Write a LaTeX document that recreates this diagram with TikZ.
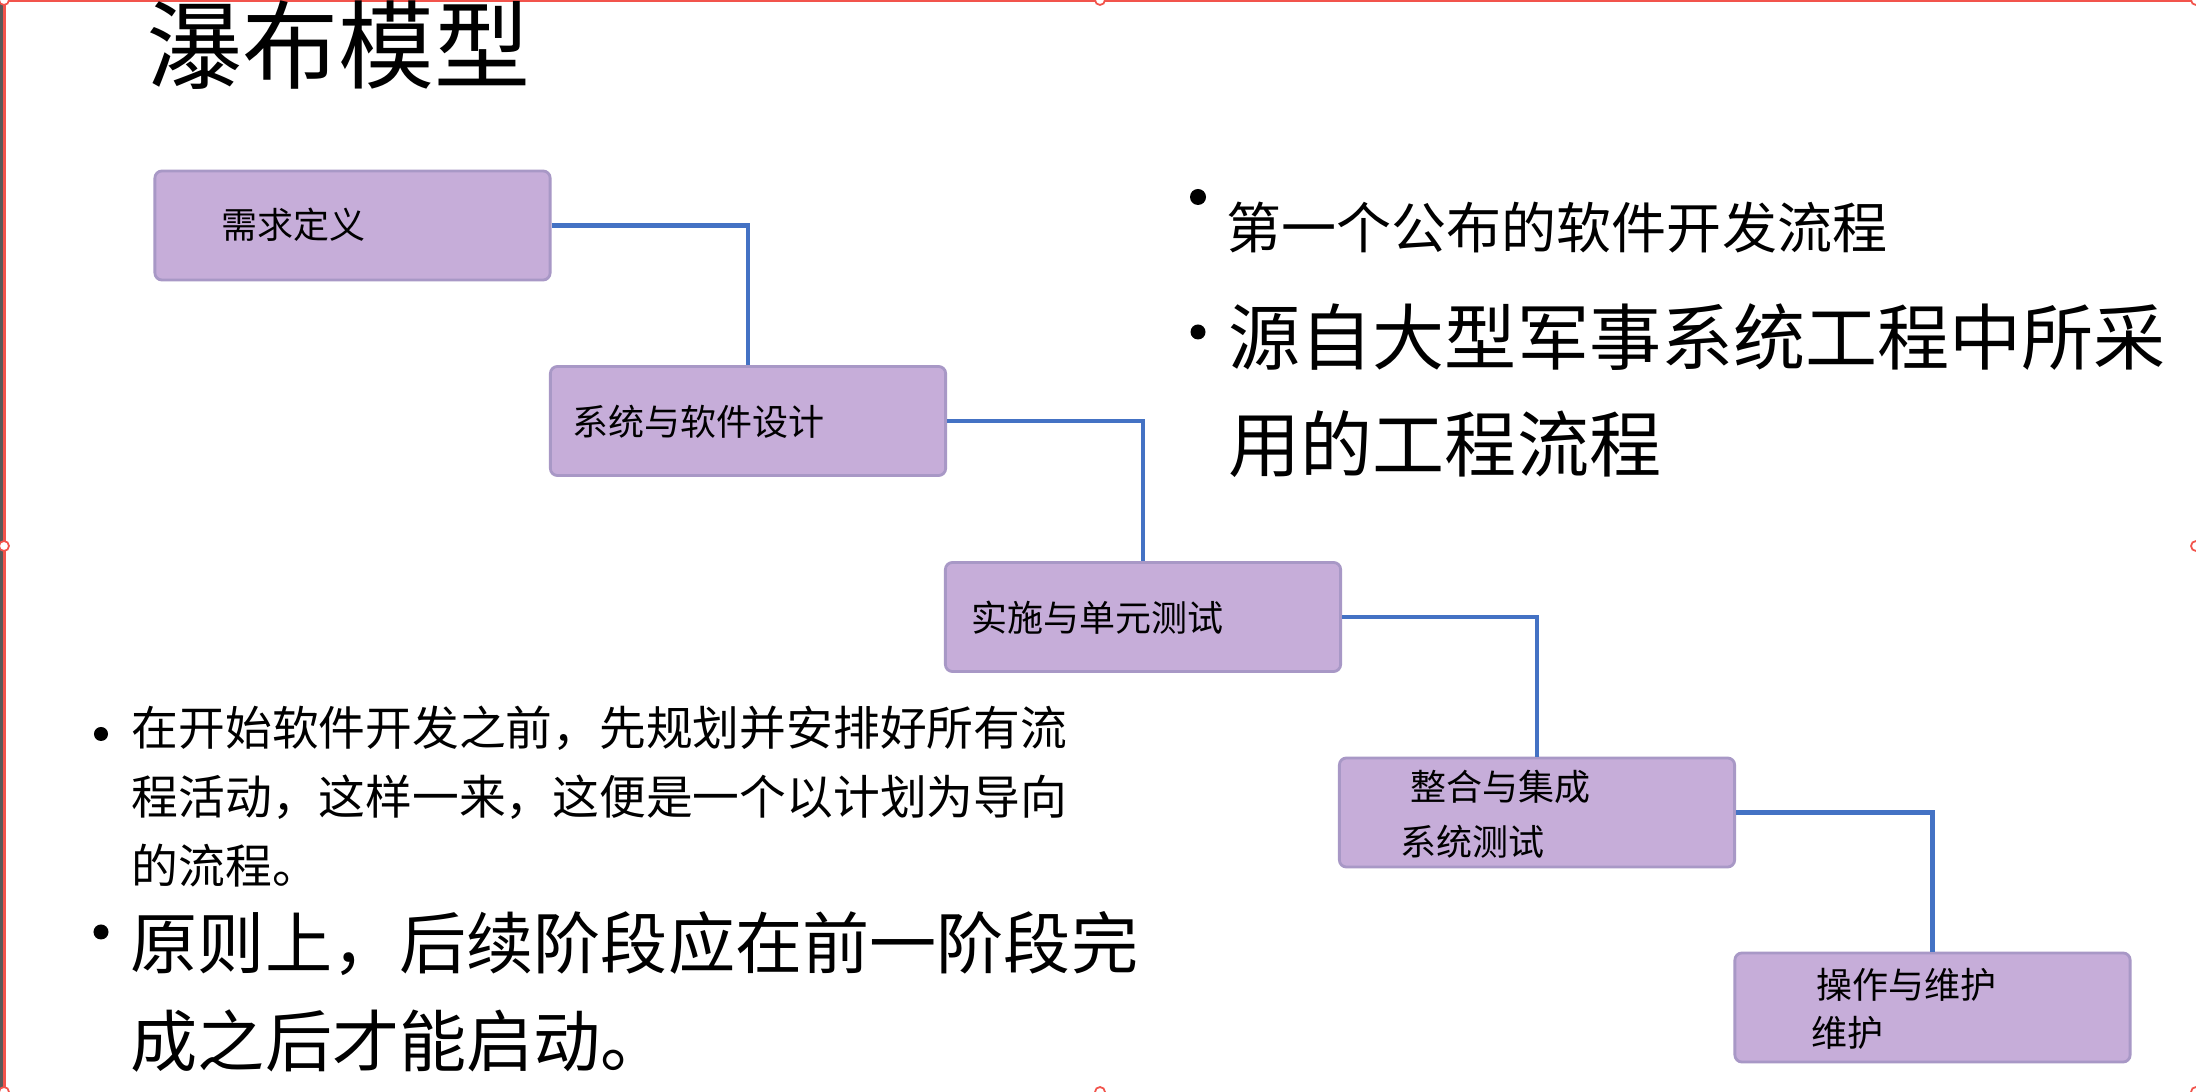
\documentclass[tikz,border=0pt]{standalone}
\usepackage{fontspec}
\setmainfont{Noto Sans CJK SC}
\definecolor{boxfill}{HTML}{C6ADD9}
\definecolor{boxline}{HTML}{A898C6}
\definecolor{flowblue}{HTML}{4472C4}
\definecolor{framered}{HTML}{F2544C}

\tikzset{
	stage/.style={draw=boxline, line width=0.8pt, fill=boxfill, rounded corners=2pt, minimum width=3.95cm, minimum height=1.09cm, inner sep=0pt},
	stagetext/.style={anchor=base west, inner sep=0pt, font=\fontsize{10.24pt}{12pt}\selectfont},
	flow/.style={draw=flowblue, line width=1.15pt},
	handle/.style={draw=framered, fill=white, line width=0.5pt},
	txt/.style={anchor=base west, inner sep=0pt}
}

\begin{document}
\begin{tikzpicture}[x=0.01cm, y=-0.01cm]
				\useasboundingbox (0,0) rectangle (2196,1092);
				\fill[white] (0,0) rectangle (2196,1092);
				% frame
				\fill[gray!70!black] (0,0) rectangle (3,1092);
				\draw[framered, line width=0.6pt] (4.5,1092) -- (4.5,1) -- (2196,1);
				\foreach \hx/\hy in {4/0, 1100/0, 2196/0, 4/546, 2196/546, 4/1092, 1100/1092, 2196/1092}
					\draw[handle] (\hx,\hy) circle (0.05cm);
				% title
				\node[txt, font=\fontsize{27.3pt}{32pt}\selectfont] (title) at (146,82) {瀑布模型};
				% stages
				\node[stage] (req) at (352.5,225.5) {};
				\node[stage] (design) at (748,421) {};
				\node[stage] (impl) at (1143,617) {};
				\node[stage] (integ) at (1537,812.5) {};
				\node[stage] (oper) at (1932.5,1007.5) {};
				\node[stagetext] (reqtxt) at (221,239) {需求定义};
				\node[stagetext] (designtxt) at (572,436) {系统与软件设计};
				\node[stagetext] (impltxt) at (971,632) {实施与单元测试};
				\node[stagetext] (integtxta) at (1410,801) {整合与集成};
				\node[stagetext] (integtxtb) at (1400,856) {系统测试};
				\node[stagetext] (opertxta) at (1816,999) {操作与维护};
				\node[stagetext] (opertxtb) at (1811,1047) {维护};
				\draw[flow] (req.east) -| (design.north);
				\draw[flow] (design.east) -| (impl.north);
				\draw[flow] (impl.east) -| (integ.north);
				\draw[flow] (integ.east) -| (oper.north);
				% right bullets
				\fill (1198,197) circle (0.08cm);
				\node[txt, font=\fontsize{15.65pt}{18pt}\selectfont] (origin) at (1226,249) {第一个公布的软件开发流程};
				\fill (1198,332) circle (0.075cm);
				\node[txt, font=\fontsize{20.5pt}{24pt}\selectfont] (militarya) at (1228,365) {源自大型军事系统工程中所采};
				\node[txt, font=\fontsize{20.5pt}{24pt}\selectfont] (militaryb) at (1228,472) {用的工程流程};
				% left bullets
				\fill (101,734) circle (0.07cm);
				\node[txt, font=\fontsize{13.3pt}{16pt}\selectfont] (plana) at (131,746) {在开始软件开发之前，先规划并安排好所有流};
				\node[txt, font=\fontsize{13.3pt}{16pt}\selectfont] (planb) at (131,815) {程活动，这样一来，这便是一个以计划为导向};
				\node[txt, font=\fontsize{13.3pt}{16pt}\selectfont] (planc) at (131,884) {的流程。};
				\fill (101,932) circle (0.075cm);
				\node[txt, font=\fontsize{19.1pt}{22pt}\selectfont] (phasea) at (130,969) {原则上，后续阶段应在前一阶段完};
				\node[txt, font=\fontsize{19.1pt}{22pt}\selectfont] (phaseb) at (130,1067) {成之后才能启动。};
			\end{tikzpicture}
\end{document}
